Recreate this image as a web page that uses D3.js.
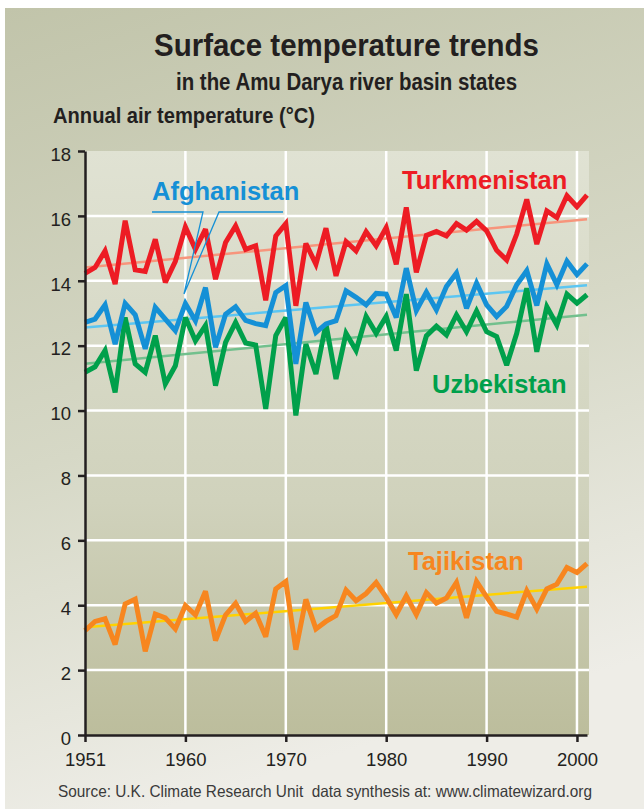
<!DOCTYPE html>
<head>
  <meta charset="utf-8">
  <script src="https://d3js.org/d3.v7.min.js"></script>
  <style>
    body { margin:0; background:#fff; }
    .axis path, .axis line { fill:none; stroke:#231f20; stroke-width:2.5px; }
    .axis text { font: 18.5px "Liberation Sans", Arial, sans-serif; fill:#231f20; }
    .grid line { stroke:#fff; stroke-width:2.5px; }
    .series { fill:none; stroke-width:5px; stroke-linejoin:miter; stroke-miterlimit:3; }
    .trend { fill:none; stroke-width:2.5px; }
    .label { font-family:"Liberation Sans", Arial, sans-serif; font-weight:bold; font-size:25.5px; }
    .head { font-family:"Liberation Sans", Arial, sans-serif; fill:#231f20; }
  </style>
</head>
<body>
<svg id="chart"></svg>
<script>
  var width = 644, height = 809;

  // data
  var years = [1951,1952,1953,1954,1955,1956,1957,1958,1959,1960,
               1961,1962,1963,1964,1965,1966,1967,1968,1969,1970,
               1971,1972,1973,1974,1975,1976,1977,1978,1979,1980,
               1981,1982,1983,1984,1985,1986,1987,1988,1989,1990,
               1991,1992,1993,1994,1995,1996,1997,1998,1999,2000,2001];

  var turkmenistan = [14.23,14.41,14.92,13.90,15.85,14.34,14.29,15.28,13.95,14.60,
                      15.66,14.97,15.59,14.05,15.18,15.69,14.97,15.08,13.40,15.38,
                      15.76,13.23,15.15,14.51,15.62,14.15,15.21,14.92,15.51,15.08,
                      15.64,14.51,16.26,14.26,15.40,15.52,15.38,15.76,15.56,15.83,
                      15.54,14.94,14.64,15.44,16.51,15.13,16.15,15.95,16.62,16.28,16.64];

  var afghanistan = [12.72,12.82,13.26,12.05,13.30,12.95,11.90,13.18,12.82,12.46,
                     13.30,12.77,13.79,11.95,12.97,13.20,12.78,12.68,12.62,13.64,
                     13.85,11.44,13.33,12.41,12.67,12.77,13.69,13.49,13.26,13.61,
                     13.59,12.87,14.39,13.08,13.65,13.10,13.82,14.24,13.15,13.93,
                     13.26,12.90,13.21,13.88,14.31,13.24,14.52,13.88,14.60,14.19,14.52];

  var uzbekistan = [11.18,11.35,11.85,10.56,12.87,11.44,11.18,12.31,10.82,11.38,
                    12.87,12.15,12.62,10.77,12.10,12.72,12.08,12.02,10.05,12.31,
                    12.87,9.85,12.05,11.13,12.67,10.97,12.38,11.85,12.90,12.38,
                    12.90,11.85,13.59,11.23,12.30,12.60,12.33,12.95,12.43,13.07,
                    12.43,12.28,11.40,12.38,13.77,11.81,13.20,12.64,13.59,13.31,13.57];

  var tajikistan = [3.22,3.50,3.58,2.79,4.04,4.19,2.58,3.73,3.61,3.27,
                    3.99,3.70,4.43,2.91,3.70,4.06,3.50,3.75,3.03,4.50,
                    4.73,2.63,4.18,3.27,3.50,3.68,4.47,4.14,4.36,4.70,
                    4.24,3.71,4.29,3.71,4.39,4.06,4.22,4.70,3.61,4.73,
                    4.26,3.81,3.73,3.63,4.45,3.88,4.50,4.65,5.16,5.01,5.28];

  // trend lines: value at first and last year
  var turkmenistanTrend = [14.41, 15.90];
  var afghanistanTrend = [12.56, 13.86];
  var uzbekistanTrend = [11.44, 12.95];
  var tajikistanTrend = [3.32, 4.57];

  var yTicks = [0,2,4,6,8,10,12,14,16,18];
  var xTickYears = [1951,1961,1971,1981,1991,2000];
  var xTickLabels = ["1951","1960","1970","1980","1990","2000"];

  var series = [
    {name:"Tajikistan",   values:tajikistan,   trend:tajikistanTrend,   color:"#f7861f", trendColor:"#ffd200"},
    {name:"Uzbekistan",   values:uzbekistan,   trend:uzbekistanTrend,   color:"#00a04b", trendColor:"#72c08d"},
    {name:"Afghanistan",  values:afghanistan,  trend:afghanistanTrend,  color:"#1590d6", trendColor:"#5cc6f2"},
    {name:"Turkmenistan", values:turkmenistan, trend:turkmenistanTrend, color:"#ed1c24", trendColor:"#f7957c"}
  ];

  var svg = d3.select("#chart").attr("width", width).attr("height", height);

  var defs = svg.append("defs");
  var bg = defs.append("linearGradient").attr("id","bg")
    .attr("x1",0).attr("y1",0).attr("x2",0.25).attr("y2",1);
  bg.append("stop").attr("offset","0%").attr("stop-color","#c1c4aa");
  bg.append("stop").attr("offset","55%").attr("stop-color","#d6d8c6");
  bg.append("stop").attr("offset","100%").attr("stop-color","#eeede7");

  var pg = defs.append("linearGradient").attr("id","plotbg")
    .attr("x1",0).attr("y1",0).attr("x2",0).attr("y2",1);
  pg.append("stop").attr("offset","0%").attr("stop-color","#e0e2d3");
  pg.append("stop").attr("offset","60%").attr("stop-color","#d0d2bc");
  pg.append("stop").attr("offset","100%").attr("stop-color","#bcbd9c");

  svg.append("rect").attr("x",5).attr("y",8).attr("width",width-5).attr("height",height-8)
    .attr("fill","url(#bg)");

  var x = d3.scaleLinear().domain([1951, 2001]).range([85, 587]);
  var y = d3.scaleLinear().domain([0, 18]).range([735, 151]);

  // plot area
  svg.append("rect")
    .attr("x", x(1951)).attr("y", y(18))
    .attr("width", x(2001) - x(1951) + 2).attr("height", y(0) - y(18))
    .attr("fill", "url(#plotbg)");

  // grid
  var grid = svg.append("g").attr("class","grid");
  grid.selectAll(".h").data(yTicks.filter(function(d){ return d > 0 && d < 18; }))
    .enter().append("line")
    .attr("x1", x(1951)).attr("x2", x(2001) + 2)
    .attr("y1", function(d){ return y(d); }).attr("y2", function(d){ return y(d); });
  grid.selectAll(".v").data(xTickYears.slice(1))
    .enter().append("line")
    .attr("x1", function(d){ return x(d); }).attr("x2", function(d){ return x(d); })
    .attr("y1", y(18)).attr("y2", y(0));

  // trend lines
  svg.selectAll(".trend").data(series).enter().append("line")
    .attr("class","trend")
    .attr("x1", x(years[0])).attr("x2", x(years[years.length-1]))
    .attr("y1", function(d){ return y(d.trend[0]); })
    .attr("y2", function(d){ return y(d.trend[1]); })
    .attr("stroke", function(d){ return d.trendColor; });

  var line = d3.line()
    .x(function(d, i){ return x(years[i]); })
    .y(function(d){ return y(d); });

  svg.selectAll(".series").data(series).enter().append("path")
    .attr("class","series")
    .attr("d", function(d){ return line(d.values); })
    .attr("stroke", function(d){ return d.color; });

  // axes
  var yAxis = svg.append("g").attr("class","axis")
    .attr("transform","translate(" + x(1951) + ",0)")
    .call(d3.axisLeft(y).tickValues(yTicks).tickSize(7).tickSizeOuter(0).tickPadding(7));
  yAxis.selectAll("text").attr("dy","0.5em");

  svg.append("g").attr("class","axis")
    .attr("transform","translate(0," + y(0) + ")")
    .call(d3.axisBottom(x).tickValues(xTickYears).tickSize(7).tickSizeOuter(0).tickPadding(11)
      .tickFormat(function(d, i){ return xTickLabels[i]; }));

  // series labels
  var labels = [
    {text:"Turkmenistan", x:402, y:189, color:"#ed1c24"},
    {text:"Afghanistan",  x:152, y:200, color:"#1590d6"},
    {text:"Uzbekistan",   x:432, y:393, color:"#00a04b"},
    {text:"Tajikistan",   x:408, y:570, color:"#f7861f"}
  ];
  svg.selectAll(".label").data(labels).enter().append("text")
    .attr("class","label")
    .attr("x", function(d){ return d.x; }).attr("y", function(d){ return d.y; })
    .attr("fill", function(d){ return d.color; })
    .text(function(d){ return d.text; });

  // Afghanistan callout
  svg.append("path")
    .attr("d","M152,212H203L184,294L219,212H283")
    .attr("stroke","#1590d6").attr("stroke-width",1.3).attr("fill","none");

  // titles (squeezed to the original condensed widths)
  function head(txt, lx, by, size, len, weight) {
    return svg.append("text").attr("class","head")
      .attr("x", lx).attr("y", by)
      .attr("textLength", len).attr("lengthAdjust","spacingAndGlyphs")
      .style("font-size", size + "px").style("font-weight", weight)
      .text(txt);
  }
  head("Surface temperature trends", 154, 56, 31.5, 385, "bold");
  head("in the Amu Darya river basin states", 176, 90, 23, 341, "bold");
  head("Annual air temperature (°C)", 53, 123, 22, 262, "bold");
  head("Source: U.K. Climate Research Unit  data synthesis at: www.climatewizard.org", 58, 797, 16.5, 534, "normal")
    .style("white-space","pre").style("fill","#3a3a3a");
</script>
</body>
